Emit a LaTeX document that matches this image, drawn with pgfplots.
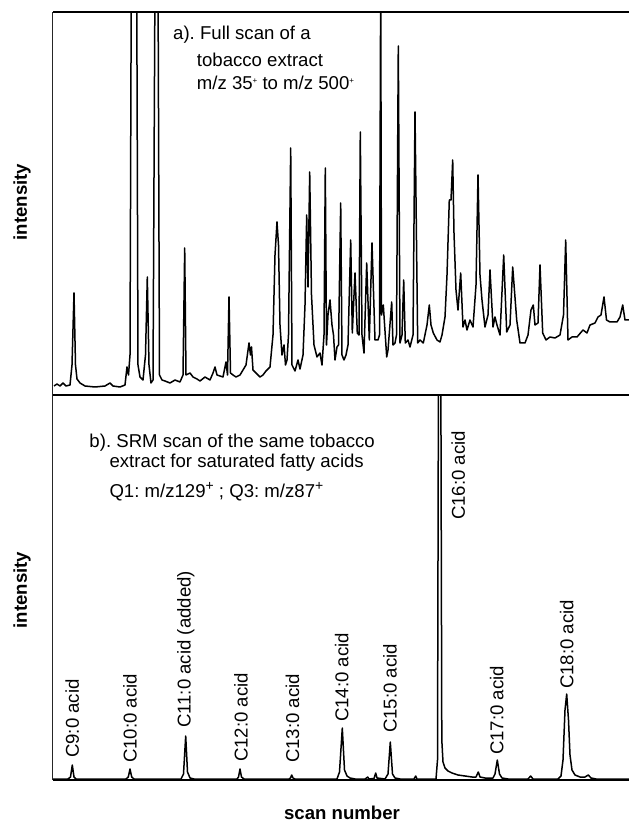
\documentclass[border=0pt]{standalone}
\usepackage{pgfplots}
\pgfplotsset{compat=1.18}
\usepackage{fontspec}
\setmainfont{Liberation Sans}
\frenchspacing

\newcommand{\lbl}{\fontsize{18.6}{21}\selectfont}
\newcommand{\smallplus}{\raisebox{6pt}{\fontsize{8}{8}\selectfont +}}
\newcommand{\bigplus}{\raisebox{7pt}{\fontsize{14}{14}\selectfont +}}

% x = scan position, y = intensity (arbitrary units)
\pgfplotstableread{
x y
54 9
57 11
60 9
63 12
66 9
70 10
72 30
74 102
75.5 30
77 16
80 12
85 9
95 8
105 9
110 12
113 9
120 8
125 10
127 28
128.5 20
130 40
131.3 420
136.7 420
138 30
140 18
143 15
145.5 40
147.3 118
149 30
151 12
153 15
155 420
158 420
159.5 20
162 15
165 14
170 12
175 15
180 13
183 20
184.7 147
186 20
190 22
193 18
197 16
200 14
205 18
210 15
213 22
215 28
217 20
220 19
223 18
226 33
227.5 20
229 98
230.5 22
233 20
236 18
240 20
243 25
246 30
249 52
250.5 40
251.5 48
253 25
256 22
260 18
263 20
266 24
270 28
273 60
275 140
277 173
278.5 150
280 70
282 40
284 50
285.5 30
287 35
288.5 60
290.7 247
292 30
295 24
298 35
300 26
303 40
305 90
306.7 180
308 108
309.7 223
311.5 100
314 50
317 38
320 42
322 30
324 60
325.3 227
326.5 50
328 80
330 95
332 70
333.5 60
335 35
337 48
338.5 50
340.7 192
342 40
344 35
346 40
348 50
350.7 155
352.3 62
355 122
357.3 62
359 60
360.3 263
362 60
364 42
366.7 132
369.3 55
372 152
375 55
378 55
379.5 60
380.7 420
381.5 80
383.3 90
386.7 38
388 45
391.7 93
393 50
395 52
396.5 60
398.3 349
400 52
402 60
403.7 115
405.3 52
408 55
410 48
413 60
415 283
417.7 52
420 55
423.3 52
427 70
429.3 90
431 70
433.3 62
437 55
440 53
442 60
445 78
447 120
449.3 195
451 195
452.7 235
454 162
456 105
458 85
460.7 122
463 68
465 75
467 65
470 75
473 68
476 110
478 220
480 120
482 95
485 68
488 80
490 125
493 68
495 78
497 70
500 60
503.7 140
506.7 63
510 70
512.7 128
516.7 75
520 52
525 52
528 60
531 85
533.3 90
535 70
538 72
540 130
542.7 62
546 55
550 58
555 57
560 60
563.5 80
565.7 155
568 55
572 58
577 58
583 65
587 62
590 70
595 72
598 78
601 80
604 98
606.5 75
610 73
617 73
620 78
622.7 90
625 75
629 75
}\fullscan

\pgfplotstableread{
x y
53 1
68 1
70.5 3
72.3 15
74 3
76 1
126 1
128.3 3
130 11
131.7 3
134 1
181 1
183.5 6
185.7 44
187.5 8
190 2
194 1
237 1
238.5 3
240 11
241.5 3
244 1
289 1
290.5 2
291.7 5
293 2
295 1
337 1
339.5 8
342.3 52
344.5 10
347 4
350 2
355 1
365 1
366.5 2
367.7 3
369 1
374 1.5
375.7 7
377 2
385 1
388 6
390.3 38
392.5 6
395 2
400 1
414 1
415.7 4
417 1
436 1
437.5 20
438.5 420
440.8 420
441.8 40
443 18
445 12
448 9
452 7
458 5
465 4
472 3
476 3
478.3 8
480 3
485 2
493 2
495 6
497.3 20
499.5 6
502 2
508 1
528 1
530.7 4
533 1
558 1
561 4
563 20
565 70
566.7 86
568.5 60
570 25
572 10
575 5
580 3
585 3
588.3 5
591 2
596 1
629 1
}\srmscan

\begin{document}
\begin{tikzpicture}
\pgfplotsset{
  panel/.style={
    scale only axis,
    width=576pt,
    xmin=53, xmax=629,
    ymin=0,
    hide axis,
  },
  trace/.style={black, line width=1.5pt, mark=none, line join=round},
}

% top: full scan
\begin{axis}[panel, name=top, at={(0pt,385pt)}, anchor=south west,
  height=383pt, ymax=383]
\addplot[trace] table[x=x, y=y] {\fullscan};
\node[anchor=base west, inner sep=0] at (axis cs:173,355) {\lbl a). Full scan of a};
\node[anchor=base west, inner sep=0] at (axis cs:196.7,328.3) {\lbl tobacco extract};
\node[anchor=base west, inner sep=0] at (axis cs:196.7,305) {\lbl m/z 35\smallplus\ to m/z 500\smallplus};
\end{axis}

% bottom: SRM scan
\begin{axis}[panel, name=bot, at={(0pt,0pt)}, anchor=south west,
  height=385pt, ymax=385]
\addplot[trace] table[x=x, y=y] {\srmscan};
\node[anchor=base west, inner sep=0] at (axis cs:89.3,332) {\lbl b). SRM scan of the same tobacco};
\node[anchor=base west, inner sep=0] at (axis cs:109.3,312) {\lbl extract for saturated fatty acids};
\node[anchor=base west, inner sep=0] at (axis cs:109.3,282) {\lbl Q1: m/z129\bigplus\ ; Q3: m/z87\bigplus};
\foreach \px/\py/\t in {72.3/22/C9:0 acid, 130/17/C10:0 acid, 185.7/52/C11:0 acid (added),
    241/18/C12:0 acid, 292.5/17/C13:0 acid, 341.7/58/C14:0 acid, 390/47/C15:0 acid,
    458.3/260/C16:0 acid, 496.7/25/C17:0 acid, 566.7/91/C18:0 acid} {
  \edef\temp{\noexpand\node[rotate=90, anchor=west, inner sep=0] at (axis cs:\px,\py) {\noexpand\lbl \t};}
  \temp
}
\end{axis}

% frame lines
\draw[black, line width=1.5pt] (top.north east) -- (top.north west);
\draw[black!85, line width=1pt] (top.north west) -- (bot.south west);
\draw[black, line width=1.5pt] (bot.north west) -- (bot.north east);
\draw[black, line width=1.3pt] (bot.south west) -- (bot.south east);

% axis labels
\node[rotate=90] at (-31pt,578pt) {\lbl\bfseries intensity};
\node[rotate=90] at (-31pt,190pt) {\lbl\bfseries intensity};
\node at (289pt,-33pt) {\lbl\bfseries scan number};

\pgfresetboundingbox
\path[use as bounding box] (-53pt,-43pt) rectangle (576pt,780pt);
\end{tikzpicture}
\end{document}
